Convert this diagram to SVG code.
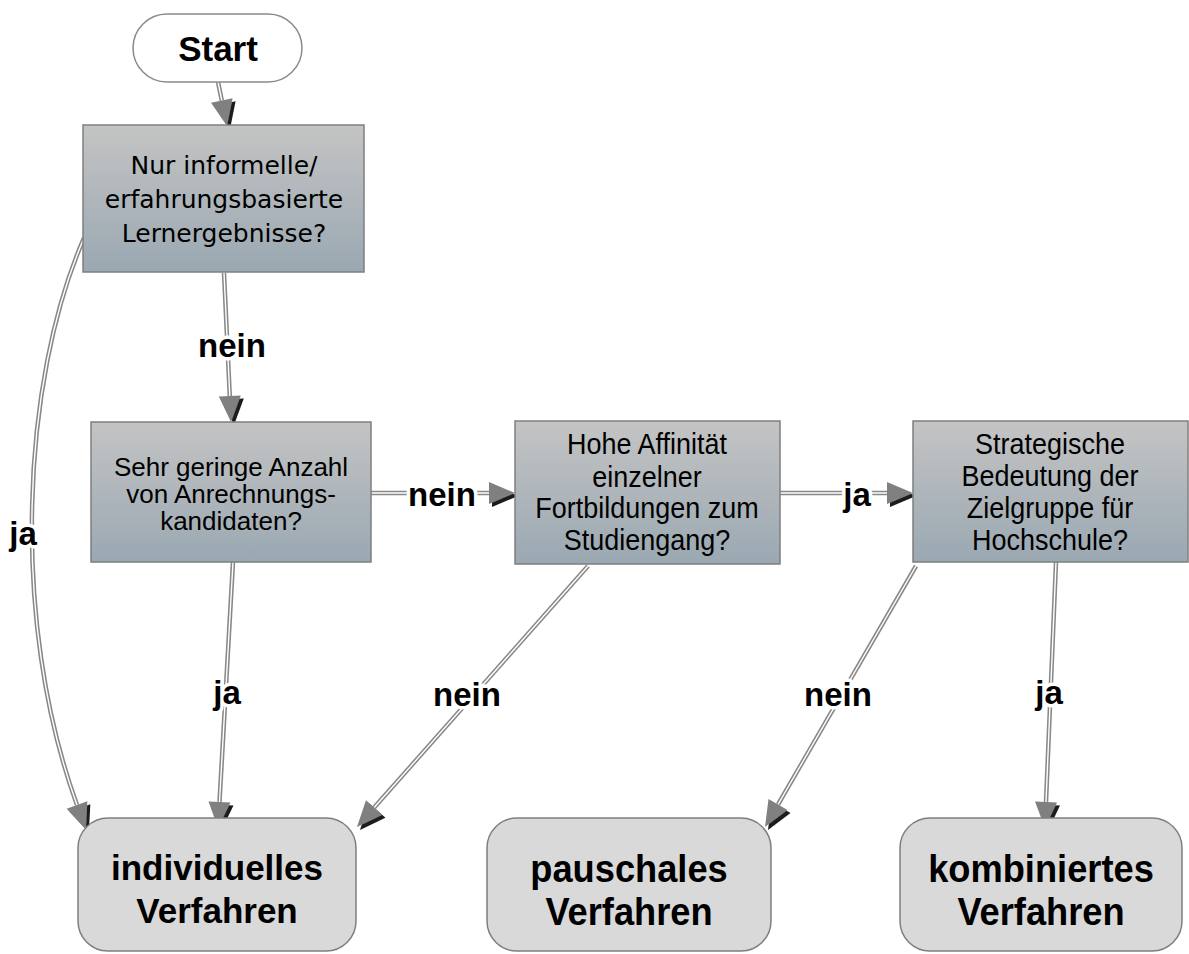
<svg xmlns="http://www.w3.org/2000/svg" xmlns:xlink="http://www.w3.org/1999/xlink" width="1189" height="954" viewBox="0 0 1189 954">
<defs>
  <linearGradient id="gDec" x1="0" y1="0" x2="0" y2="1">
    <stop offset="0" stop-color="#c4c4c4"/>
    <stop offset="1" stop-color="#9aa8b2"/>
  </linearGradient>
  <marker id="ah" markerUnits="userSpaceOnUse" viewBox="0 0 27 24" refX="0" refY="12" markerWidth="27" markerHeight="24" orient="auto" overflow="visible">
    <path d="M0,1 L26,12 L0,23 z" fill="#808080"/>
  </marker>
  <filter id="shadow" filterUnits="userSpaceOnUse" x="0" y="0" width="1189" height="954">
    <feOffset in="SourceAlpha" dx="2.5" dy="2.5" result="o"/>
    <feFlood flood-color="#1a1a1a"/>
    <feComposite in2="o" operator="in" result="s"/>
    <feMerge><feMergeNode in="s"/><feMergeNode in="SourceGraphic"/></feMerge>
  </filter>
  <path id="c1" d="M218,82 L221.8,100.5"/>
  <path id="c2" d="M224,273 L229.8,396"/>
  <path id="c3" d="M84,238 C22,380 10,620 77,805"/>
  <path id="c4" d="M371,493 L489,493"/>
  <path id="c5" d="M780,493 L887,493"/>
  <path id="c6" d="M233,562 L219.5,802"/>
  <path id="c7" d="M588,566 L374.2,807.5"/>
  <path id="c8" d="M916,566 L778,804.5"/>
  <path id="c9" d="M1056,562 L1046,802"/>
</defs>
<style>
  .dec rect { fill: url(#gDec); stroke: #7f7f7f; stroke-width: 1.5; }
  .end rect { fill: #d9d9d9; stroke: #7f7f7f; stroke-width: 1.5; }
  .start rect { fill: #ffffff; stroke: #8a8a8a; stroke-width: 1.5; }
  .pipe { fill: none; stroke: #888888; stroke-width: 4.5; }
  .core { fill: none; stroke: #ffffff; stroke-width: 1.4; }
  .head { fill: none; stroke: none; marker-end: url(#ah); }
  .t-dv { font-family: "DejaVu Sans", Verdana, sans-serif; font-size: 25px; fill: #000; text-anchor: middle; }
  .t-ar { font-family: "Liberation Sans", Arial, sans-serif; font-size: 26px; fill: #000; text-anchor: middle; }
  .t-nr { font-family: "Liberation Sans", Arial, sans-serif; font-size: 29px; fill: #000; text-anchor: middle; }
  .t-end { font-family: "Liberation Sans", Arial, sans-serif; font-size: 35px; font-weight: bold; fill: #000; text-anchor: middle; }
  .t-endn { font-family: "Liberation Sans", Arial, sans-serif; font-size: 39px; font-weight: bold; fill: #000; text-anchor: middle; }
  .t-start { font-family: "Liberation Sans", Arial, sans-serif; font-size: 35px; font-weight: bold; fill: #000; text-anchor: middle; }
  .lbl { font-family: "Liberation Sans", Arial, sans-serif; font-size: 33px; font-weight: bold; fill: #000; text-anchor: middle; stroke: #ffffff; stroke-width: 7px; paint-order: stroke; stroke-linejoin: round; }
</style>
<rect width="1189" height="954" fill="#ffffff"/>

<g id="connectors">
  <g id="pipes">
    <use xlink:href="#c1" class="pipe"/><use xlink:href="#c1" class="core"/>
    <use xlink:href="#c2" class="pipe"/><use xlink:href="#c2" class="core"/>
    <use xlink:href="#c3" class="pipe"/><use xlink:href="#c3" class="core"/>
    <use xlink:href="#c4" class="pipe"/><use xlink:href="#c4" class="core"/>
    <use xlink:href="#c5" class="pipe"/><use xlink:href="#c5" class="core"/>
    <use xlink:href="#c6" class="pipe"/><use xlink:href="#c6" class="core"/>
    <use xlink:href="#c7" class="pipe"/><use xlink:href="#c7" class="core"/>
    <use xlink:href="#c8" class="pipe"/><use xlink:href="#c8" class="core"/>
    <use xlink:href="#c9" class="pipe"/><use xlink:href="#c9" class="core"/>
  </g>
  <g id="heads" filter="url(#shadow)">
    <use xlink:href="#c1" class="head"/>
    <use xlink:href="#c2" class="head"/>
    <use xlink:href="#c3" class="head"/>
    <use xlink:href="#c4" class="head"/>
    <use xlink:href="#c5" class="head"/>
    <use xlink:href="#c6" class="head"/>
    <use xlink:href="#c7" class="head"/>
    <use xlink:href="#c8" class="head"/>
    <use xlink:href="#c9" class="head"/>
  </g>
  <g id="labels">
    <text class="lbl" x="232" y="357">nein</text>
    <text class="lbl" x="23" y="545">ja</text>
    <text class="lbl" x="442" y="506">nein</text>
    <text class="lbl" x="857" y="506">ja</text>
    <text class="lbl" x="227" y="704">ja</text>
    <text class="lbl" x="467" y="706">nein</text>
    <text class="lbl" x="838" y="706">nein</text>
    <text class="lbl" x="1049" y="704">ja</text>
  </g>
</g>

<g id="start" class="start">
  <rect x="133" y="14" width="169" height="68" rx="34" ry="34"/>
  <text class="t-start" x="218" y="61">Start</text>
</g>

<g id="q1" class="dec">
  <rect x="83" y="125" width="281" height="147"/>
  <text class="t-dv" x="224" y="174">Nur informelle/</text>
  <text class="t-dv" x="224" y="208">erfahrungsbasierte</text>
  <text class="t-dv" x="224" y="242">Lernergebnisse?</text>
</g>

<g id="q2" class="dec">
  <rect x="91" y="422" width="280" height="140"/>
  <text class="t-ar" x="231" y="476">Sehr geringe Anzahl</text>
  <text class="t-ar" x="231" y="503">von Anrechnungs-</text>
  <text class="t-ar" x="231" y="530">kandidaten?</text>
</g>

<g id="q3" class="dec">
  <rect x="515" y="421" width="265" height="143"/>
  <g transform="translate(647,0) scale(0.93,1)">
    <text class="t-nr" x="0" y="454">Hohe Affinität</text>
    <text class="t-nr" x="0" y="487">einzelner</text>
    <text class="t-nr" x="0" y="518">Fortbildungen zum</text>
    <text class="t-nr" x="0" y="550">Studiengang?</text>
  </g>
</g>

<g id="q4" class="dec">
  <rect x="913" y="421" width="275" height="141"/>
  <g transform="translate(1050,0) scale(0.93,1)">
    <text class="t-nr" x="0" y="454">Strategische</text>
    <text class="t-nr" x="0" y="486">Bedeutung der</text>
    <text class="t-nr" x="0" y="518">Zielgruppe für</text>
    <text class="t-nr" x="0" y="550">Hochschule?</text>
  </g>
</g>

<g id="r1" class="end">
  <rect x="78" y="818" width="278" height="133" rx="30" ry="30"/>
  <text class="t-end" x="217" y="880">individuelles</text>
  <text class="t-end" x="217" y="923">Verfahren</text>
</g>

<g id="r2" class="end">
  <rect x="487" y="818" width="284" height="133" rx="30" ry="30"/>
  <g transform="translate(629,0) scale(0.93,1)">
    <text class="t-endn" x="0" y="882">pauschales</text>
    <text class="t-endn" x="0" y="925">Verfahren</text>
  </g>
</g>

<g id="r3" class="end">
  <rect x="900" y="818" width="282" height="133" rx="30" ry="30"/>
  <g transform="translate(1041,0) scale(0.93,1)">
    <text class="t-endn" x="0" y="882">kombiniertes</text>
    <text class="t-endn" x="0" y="925">Verfahren</text>
  </g>
</g>
</svg>
